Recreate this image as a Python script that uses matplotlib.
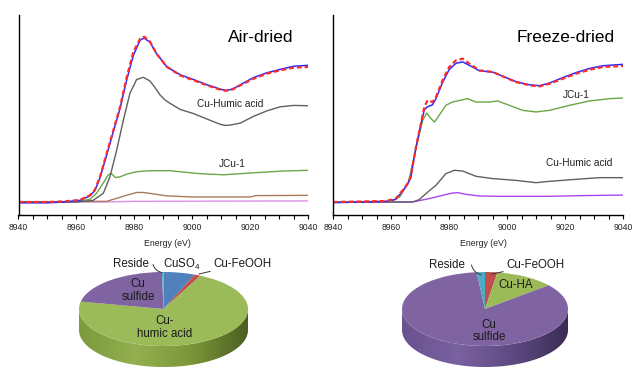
import numpy as np
import matplotlib
matplotlib.use('Agg')
import matplotlib.pyplot as plt
from matplotlib.ticker import MultipleLocator
from matplotlib.colors import LinearSegmentedColormap
from matplotlib.patches import Polygon

plt.rcParams['font.family'] = ['Liberation Sans', 'DejaVu Sans']
plt.rcParams['mathtext.fontset'] = 'custom'
plt.rcParams['mathtext.rm'] = 'Liberation Sans'
plt.rcParams['mathtext.default'] = 'regular'

# ---------------- spectra: Air-dried ----------------
air_fit_e = [8940, 8950, 8956, 8961.2, 8964.7, 8966.4, 8968.2, 8970.5, 8972.8, 8975.1, 8977.4, 8979.7,
             8982.0, 8983.4, 8985.4, 8987.7, 8991.2, 8995.9, 9000.5, 9005.1, 9009.7, 9011.5, 9013.2,
             9015.0, 9016.6, 9021.2, 9025.8, 9030.4, 9035.0, 9040]
air_fit = [0.0, 0.0, 0.005, 0.015, 0.05, 0.09, 0.19, 0.36, 0.53, 0.70, 0.92, 1.105,
           1.20, 1.215, 1.18, 1.09, 0.995, 0.93, 0.895, 0.858, 0.826, 0.818, 0.822,
           0.838, 0.858, 0.907, 0.944, 0.968, 0.988, 0.993]
air_exp = [-0.006, -0.006, 0.0, 0.012, 0.045, 0.085, 0.18, 0.35, 0.52, 0.69, 0.90, 1.08,
           1.19, 1.205, 1.175, 1.09, 0.995, 0.935, 0.90, 0.862, 0.83, 0.821, 0.826,
           0.842, 0.862, 0.915, 0.95, 0.975, 0.998, 1.005]
air_ha_e = [8940, 8960, 8965.8, 8969.3, 8971.6, 8973.9, 8976.2, 8978.5, 8980.8, 8983.1, 8985.4, 8987.2,
            8988.9, 8990.5, 8992.3, 8995.9, 9000.5, 9005.1, 9009.7, 9011.5, 9013.2, 9016.6, 9021.2,
            9025.8, 9030.4, 9035, 9040]
air_ha = [0.0, 0.0, 0.012, 0.064, 0.186, 0.38, 0.60, 0.80, 0.90, 0.917, 0.89, 0.84,
          0.787, 0.752, 0.726, 0.68, 0.65, 0.61, 0.571, 0.563, 0.566, 0.58, 0.63,
          0.67, 0.70, 0.71, 0.708]
air_jcu_e = [8940, 8960, 8964.7, 8967.0, 8969.3, 8971.0, 8972.0, 8973.5, 8975.1, 8977.4, 8980.8, 8985.4,
             8992.3, 8997.0, 9002.8, 9010.9, 9020.0, 9031.6, 9040]
air_jcu = [0.0, 0.003, 0.02, 0.065, 0.14, 0.20, 0.21, 0.18, 0.185, 0.205, 0.223, 0.23,
           0.23, 0.22, 0.208, 0.20, 0.213, 0.228, 0.233]
air_brown_e = [8940, 8970.5, 8973.9, 8977.4, 8980.8, 8983.1, 8986.5, 8991.2, 9000, 9020, 9022, 9040]
air_brown = [0.0, 0.005, 0.027, 0.05, 0.07, 0.07, 0.06, 0.045, 0.037, 0.037, 0.047, 0.049]
air_pink_e = [8940, 8970, 8980, 9000, 9040]
air_pink = [0.0, 0.0, 0.005, 0.006, 0.008]

# ---------------- spectra: Freeze-dried ----------------
fz_fit_e = [8940, 8958.2, 8961.7, 8964.0, 8965.7, 8966.8, 8968.6, 8970.3, 8971.5, 8972.6, 8974.3, 8975.5,
            8977.8, 8980.1, 8982.4, 8984.7, 8987.0, 8990.5, 8995.1, 8998.5, 9003.1, 9007.7, 9011.2,
            9014.7, 9019.3, 9023.9, 9028.5, 9033.1, 9040]
fz_fit = [0.0, 0.007, 0.025, 0.086, 0.135, 0.184, 0.404, 0.576, 0.699, 0.748, 0.735, 0.772,
          0.895, 0.993, 1.042, 1.054, 1.017, 0.968, 0.956, 0.924, 0.882, 0.858, 0.850,
          0.870, 0.907, 0.944, 0.973, 0.993, 1.0]
fz_exp = [-0.005, 0.004, 0.02, 0.08, 0.13, 0.18, 0.40, 0.57, 0.68, 0.70, 0.715, 0.76,
          0.88, 0.975, 1.02, 1.03, 1.005, 0.965, 0.955, 0.925, 0.885, 0.862, 0.855,
          0.875, 0.915, 0.952, 0.982, 1.002, 1.012]
fz_jcu_e = [8940, 8960, 8963, 8966, 8968.6, 8970.9, 8972.3, 8973.8, 8975.0, 8976.6, 8978.9, 8981.2,
            8986.4, 8989.3, 8993.9, 8996.8, 9000.8, 9005.4, 9010.0, 9014.7, 9021.6, 9028.5, 9035.4, 9040]
fz_jcu = [0.0, 0.005, 0.037, 0.147, 0.392, 0.600, 0.654, 0.613, 0.588, 0.637, 0.711, 0.735,
          0.760, 0.735, 0.735, 0.743, 0.711, 0.674, 0.662, 0.674, 0.711, 0.743, 0.760, 0.765]
fz_ha_e = [8940, 8967.4, 8969.7, 8972.0, 8975.5, 8978.9, 8981.8, 8984.7, 8989.3, 8995.0, 9003.1, 9010.0,
           9014.7, 9023.9, 9032.0, 9040]
fz_ha = [0.0, 0.0, 0.017, 0.061, 0.123, 0.208, 0.233, 0.228, 0.189, 0.172, 0.159, 0.142,
         0.152, 0.167, 0.179, 0.179]
fz_violet_e = [8940, 8967.4, 8973.2, 8977.8, 8981.2, 8983.0, 8985.9, 8990.5, 8997.4, 9014.7, 9026.2, 9040]
fz_violet = [0.0, 0.0, 0.025, 0.049, 0.066, 0.069, 0.056, 0.044, 0.042, 0.042, 0.047, 0.051]

# ---------------- pies ----------------
air_pie_labels = ['CuSO$_4$', 'Cu-FeOOH', 'Cu-\nhumic acid', 'Cu\nsulfide', 'Reside']
air_pie_values = [6.0, 1.2, 71.0, 21.5, 0.3]
air_pie_colors = ['#4F81BD', '#C0504D', '#9BBB59', '#8064A2', '#4BACC6']
fz_pie_labels = ['Cu-FeOOH', 'Cu-HA', 'Cu\nsulfide', 'Reside']
fz_pie_values = [2.4, 11.5, 84.5, 1.6]
fz_pie_colors = ['#C0504D', '#9BBB59', '#8064A2', '#4BACC6']

W, H = 633, 367
fig = plt.figure(figsize=(W / 100, H / 100), dpi=100)


def px_axes(left, top, right, bottom):
    return fig.add_axes([left / W, 1 - bottom / H, (right - left) / W, (bottom - top) / H])


def style_spectrum(ax, title, title_x, label_x):
    ax.set_xlim(8940, 9040)
    ax.set_ylim(-0.0956, 1.375)
    for s in ['top', 'right']:
        ax.spines[s].set_visible(False)
    ax.spines['left'].set_linewidth(1.0)
    ax.spines['bottom'].set_linewidth(1.0)
    ax.set_yticks([])
    ax.set_xticks(range(8940, 9041, 20))
    ax.xaxis.set_minor_locator(MultipleLocator(5))
    ax.tick_params(axis='x', which='both', direction='out', length=3, width=0.8,
                   labelsize=6.2, pad=2.5, labelcolor='#222222')
    ax.set_xlabel('Energy (eV)', fontsize=6.3, color='#222222')
    ax.xaxis.set_label_coords(label_x, -0.118)
    ax.text(title_x, 0.885, title, transform=ax.transAxes, ha='center', va='center', fontsize=12.5)


ax1 = px_axes(18.5, 15, 308, 215)
ax1.plot(air_pink_e, air_pink, color='#dd90e6', lw=1.0)
ax1.plot(air_brown_e, air_brown, color='#a87a5c', lw=1.0)
ax1.plot(air_jcu_e, air_jcu, color='#6aa744', lw=1.0)
ax1.plot(air_ha_e, air_ha, color='#606060', lw=1.0)
ax1.plot(air_fit_e, air_exp, color='#2a2aff', lw=1.1)
ax1.plot(air_fit_e, air_fit, color='#ff2a2a', lw=1.6, ls=(0, (2.2, 1.3)))
ax1.text(9013.1, 0.72, 'Cu-Humic acid', ha='center', va='center', fontsize=7.3, color='#222222')
ax1.text(9013.8, 0.28, 'JCu-1', ha='center', va='center', fontsize=7.3, color='#222222')
style_spectrum(ax1, 'Air-dried', 0.838, 0.516)

ax2 = px_axes(333, 15, 623, 215)
ax2.plot(fz_violet_e, fz_violet, color='#a845f0', lw=1.0)
ax2.plot(fz_ha_e, fz_ha, color='#606060', lw=1.0)
ax2.plot(fz_jcu_e, fz_jcu, color='#6aa744', lw=1.0)
ax2.plot(fz_fit_e, fz_exp, color='#2a2aff', lw=1.1)
ax2.plot(fz_fit_e, fz_fit, color='#ff2a2a', lw=1.6, ls=(0, (2.2, 1.3)))
ax2.text(9023.8, 0.787, 'JCu-1', ha='center', va='center', fontsize=7.3, color='#222222')
ax2.text(9024.8, 0.287, 'Cu-Humic acid', ha='center', va='center', fontsize=7.3, color='#222222')
style_spectrum(ax2, 'Freeze-dried', 0.803, 0.52)


def draw_pie(ax, values, colors, side_stops, cx, cy, rx, ry, left, right, thick=21):
    h = thick / ry
    t = np.linspace(np.pi, 2 * np.pi, 120)
    upper = np.c_[np.cos(t), np.sin(t)]
    lower = np.c_[np.cos(t[::-1]), np.sin(t[::-1]) - h]
    poly = Polygon(np.vstack([upper, lower]), closed=True, facecolor='none', edgecolor='none')
    ax.add_patch(poly)
    cmap = LinearSegmentedColormap.from_list('side', side_stops)
    grad = np.linspace(0, 1, 256).reshape(1, -1)
    im = ax.imshow(grad, cmap=cmap, extent=(-1, 1, -1 - h, 0), aspect='auto',
                   interpolation='bilinear', zorder=1)
    im.set_clip_path(poly)
    ax.pie(values, colors=colors, startangle=90, counterclock=False,
           wedgeprops=dict(linewidth=0, zorder=2))
    ax.set_aspect('auto')
    ax.set_xlim((left - cx) / rx, (right - cx) / rx)
    ax.set_ylim((cy - 367) / ry, (cy - 245) / ry)
    ax.axis('off')


# Air-dried pie (pixel geometry: centre 163.5,309, radii 84.5 x 37)
pa1 = px_axes(0, 245, 316, 367)
draw_pie(pa1, air_pie_values, air_pie_colors,
         ['#7d9a3c', '#93b050', '#7a9638', '#4a5e20'], 163.5, 309, 84.5, 37, 0, 316)
tk = dict(fontsize=8.3, color='#1a1a1a', linespacing=1.05)


def py_(p, cy=309, ry=37):
    return (cy - p) / ry


pa1.text(-0.30, py_(290.5), air_pie_labels[3], ha='center', va='center', **tk)
pa1.text(0.018, py_(327.5), air_pie_labels[2], ha='center', va='center', **tk)
pa1.text(-0.385, py_(264), air_pie_labels[4], ha='center', va='center', **tk)
pa1.text(-0.006, py_(264), air_pie_labels[0], ha='left', va='center', **tk)
pa1.annotate(air_pie_labels[1], xy=((199 - 163.5) / 84.5, py_(274)),
             xytext=((213 - 163.5) / 84.5, py_(264)), ha='left', va='center',
             arrowprops=dict(arrowstyle='-', color='#333333', lw=0.7, shrinkA=0, shrinkB=0), **tk)
pa1.annotate('', xy=((162 - 163.5) / 84.5, py_(272.5)),
             xytext=((153 - 163.5) / 84.5, py_(264.5)),
             arrowprops=dict(arrowstyle='-', color='#333333', lw=0.7, shrinkA=0, shrinkB=0,
                             connectionstyle='arc3,rad=0.3'))

# Freeze-dried pie (centre 485,309, radii 83 x 37)
pa2 = px_axes(316, 245, 633, 367)
draw_pie(pa2, fz_pie_values, fz_pie_colors,
         ['#6a5290', '#7a62a0', '#5e4a82', '#3a2c55'], 485, 309, 83, 37, 316, 633)
pa2.text(0.048, py_(331), fz_pie_labels[2], ha='center', va='center', **tk)
pa2.text(0.373, py_(285), fz_pie_labels[1], ha='center', va='center', **tk)
pa2.text(-0.458, py_(265), fz_pie_labels[3], ha='center', va='center', **tk)
pa2.annotate(fz_pie_labels[0], xy=((492 - 485) / 83, py_(274)),
             xytext=((506 - 485) / 83, py_(265)), ha='left', va='center',
             arrowprops=dict(arrowstyle='-', color='#333333', lw=0.7, shrinkA=0, shrinkB=0), **tk)
pa2.annotate('', xy=((481.5 - 485) / 83, py_(275)),
             xytext=((471.5 - 485) / 83, py_(265)),
             arrowprops=dict(arrowstyle='-', color='#333333', lw=0.7, shrinkA=0, shrinkB=0,
                             connectionstyle='arc3,rad=0.3'))

fig.savefig('out.png', dpi=100, facecolor='white')
